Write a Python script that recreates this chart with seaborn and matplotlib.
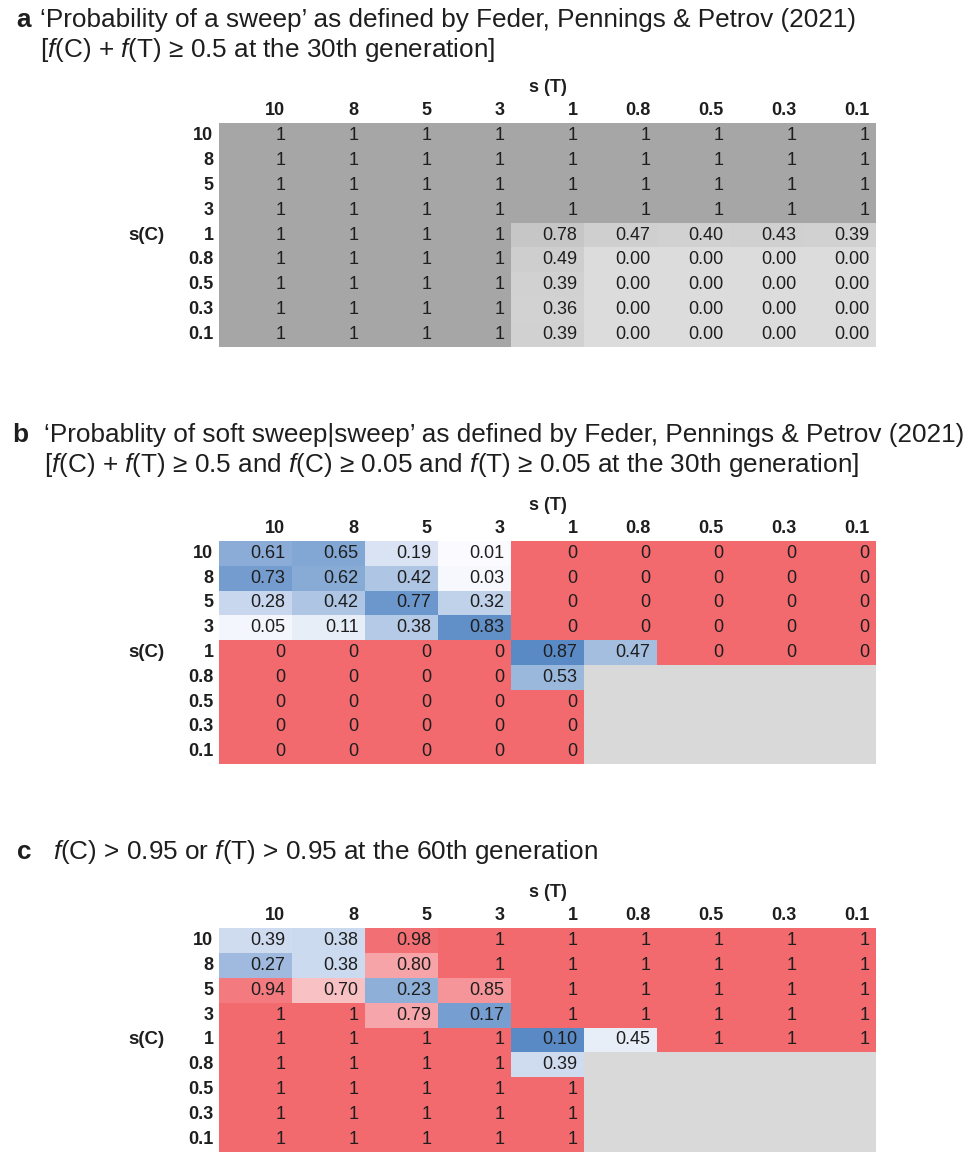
import numpy as np
import pandas as pd
import matplotlib
matplotlib.use("Agg")
import matplotlib.pyplot as plt
import seaborn as sns
from matplotlib.colors import ListedColormap, LinearSegmentedColormap, TwoSlopeNorm

sns.set_theme(style="white")
plt.rcParams['font.family'] = ['Liberation Sans', 'DejaVu Sans']
plt.rcParams['mathtext.fontset'] = 'custom'
plt.rcParams['mathtext.rm'] = 'Liberation Sans'
plt.rcParams['mathtext.it'] = 'Liberation Sans:italic'

# ---------------- data ----------------
s_C = ["10", "8", "5", "3", "1", "0.8", "0.5", "0.3", "0.1"]
s_T = ["10", "8", "5", "3", "1", "0.8", "0.5", "0.3", "0.1"]
nan = np.nan

sweep_prob = [
    [1, 1, 1, 1, 1, 1, 1, 1, 1],
    [1, 1, 1, 1, 1, 1, 1, 1, 1],
    [1, 1, 1, 1, 1, 1, 1, 1, 1],
    [1, 1, 1, 1, 1, 1, 1, 1, 1],
    [1, 1, 1, 1, 0.78, 0.47, 0.40, 0.43, 0.39],
    [1, 1, 1, 1, 0.49, 0.00, 0.00, 0.00, 0.00],
    [1, 1, 1, 1, 0.39, 0.00, 0.00, 0.00, 0.00],
    [1, 1, 1, 1, 0.36, 0.00, 0.00, 0.00, 0.00],
    [1, 1, 1, 1, 0.39, 0.00, 0.00, 0.00, 0.00],
]

soft_sweep_prob = [
    [0.61, 0.65, 0.19, 0.01, 0, 0, 0, 0, 0],
    [0.73, 0.62, 0.42, 0.03, 0, 0, 0, 0, 0],
    [0.28, 0.42, 0.77, 0.32, 0, 0, 0, 0, 0],
    [0.05, 0.11, 0.38, 0.83, 0, 0, 0, 0, 0],
    [0, 0, 0, 0, 0.87, 0.47, 0, 0, 0],
    [0, 0, 0, 0, 0.53, nan, nan, nan, nan],
    [0, 0, 0, 0, 0, nan, nan, nan, nan],
    [0, 0, 0, 0, 0, nan, nan, nan, nan],
    [0, 0, 0, 0, 0, nan, nan, nan, nan],
]

fixation_prob = [
    [0.39, 0.38, 0.98, 1, 1, 1, 1, 1, 1],
    [0.27, 0.38, 0.80, 1, 1, 1, 1, 1, 1],
    [0.94, 0.70, 0.23, 0.85, 1, 1, 1, 1, 1],
    [1, 1, 0.79, 0.17, 1, 1, 1, 1, 1],
    [1, 1, 1, 1, 0.10, 0.45, 1, 1, 1],
    [1, 1, 1, 1, 0.39, nan, nan, nan, nan],
    [1, 1, 1, 1, 1, nan, nan, nan, nan],
    [1, 1, 1, 1, 1, nan, nan, nan, nan],
    [1, 1, 1, 1, 1, nan, nan, nan, nan],
]

# ---------------- style ----------------
W, H = 968, 1153
DARK_GRAY = '#A6A6A6'
NAN_GRAY = '#D9D9D9'
RED = '#F2696E'
BLUE = '#5A8AC6'
WHITE = '#FCFCFF'
TEXT = '#1e1e1e'
CELL_FS = 13
TICK_FS = 13
TITLE_FS = 18.8

fig = plt.figure(figsize=(W / 100, H / 100), dpi=100)
fig.patch.set_facecolor('white')


def make_ax(top, bottom):
    return fig.add_axes([219 / W, 1 - bottom / H, 657 / W, (bottom - top) / H])


def labels_for(df, special):
    lab = df.copy().astype(object)
    for i in range(df.shape[0]):
        for j in range(df.shape[1]):
            v = df.iat[i, j]
            if np.isnan(v):
                lab.iat[i, j] = ''
            elif v == special:
                lab.iat[i, j] = f"{int(v)}"
            else:
                lab.iat[i, j] = f"{v:.2f}"
    return lab.values


def draw_panel(ax, values, special, special_color, cmap, **scale_kws):
    df = pd.DataFrame(values, index=s_C, columns=s_T, dtype=float)
    lab = labels_for(df, special)
    is_nan = df.isna()
    is_special = (df == special)
    ax.set_facecolor(NAN_GRAY)
    akw = dict(size=CELL_FS, color=TEXT)
    sns.heatmap(df, mask=~is_special, cmap=ListedColormap([special_color]),
                cbar=False, annot=lab, fmt='', annot_kws=akw, ax=ax,
                xticklabels=s_T, yticklabels=s_C)
    sns.heatmap(df, mask=is_special | is_nan, cmap=cmap, cbar=False,
                annot=lab, fmt='', annot_kws=akw, ax=ax,
                xticklabels=s_T, yticklabels=s_C, **scale_kws)
    # right-align numbers inside cells (Excel style)
    for t in ax.texts:
        x, y = t.get_position()
        t.set_position((x + 0.5 - 0.09, y))
        t.set_ha('right')
    n = len(s_T)
    ax.xaxis.tick_top()
    ax.set_xticks(np.arange(n) + 1 - 0.09)
    ax.set_xticklabels(s_T, fontweight='bold', fontsize=TICK_FS, ha='right',
                       color=TEXT, rotation=0)
    ax.set_yticks(np.arange(len(s_C)) + 0.5)
    ax.set_yticklabels(s_C, fontweight='bold', fontsize=TICK_FS, rotation=0,
                       color=TEXT, va='center')
    ax.tick_params(axis='x', length=0, pad=3)
    ax.tick_params(axis='y', length=0, pad=4)
    ax.xaxis.set_label_position('top')
    ax.set_xlabel('s (T)', fontweight='bold', fontsize=TICK_FS, color=TEXT, labelpad=7)
    ax.set_ylabel('s(C)', fontweight='bold', fontsize=TICK_FS + 0.5, color=TEXT,
                  rotation=0, ha='center', va='center')
    ax.yaxis.set_label_coords(-0.111, 0.5)
    for sp in ax.spines.values():
        sp.set_visible(False)


# panel a
ax_a = make_ax(123, 347)
gray_cmap = LinearSegmentedColormap.from_list('gray_scale', ['#DCDCDC', '#C0C0C0'])
draw_panel(ax_a, sweep_prob, 1, DARK_GRAY, gray_cmap, vmin=0, vmax=1)

# panel b
ax_b = make_ax(541, 764)
blue_cmap = LinearSegmentedColormap.from_list('blue_scale', [WHITE, BLUE])
b_vals = np.array(soft_sweep_prob, dtype=float)
draw_panel(ax_b, soft_sweep_prob, 0, RED, blue_cmap, vmin=0,
           vmax=np.nanmax(b_vals))

# panel c
ax_c = make_ax(928, 1152)
div_cmap = LinearSegmentedColormap.from_list('div_scale', [BLUE, WHITE, RED])
c_vals = np.array(fixation_prob, dtype=float)
draw_panel(ax_c, fixation_prob, 1, RED, div_cmap,
           norm=TwoSlopeNorm(vmin=np.nanmin(c_vals), vcenter=0.5, vmax=1.0))

# titles
def fy(px):
    return 1 - px / H

fig.text(16 / W, fy(27), 'a', fontsize=TITLE_FS, fontweight='bold', color=TEXT, va='baseline')
fig.text(40 / W, fy(27), '‘Probability of a sweep’ as defined by Feder, Pennings & Petrov (2021)',
         fontsize=TITLE_FS, color=TEXT, va='baseline')
fig.text(40 / W, fy(57), r'[$\mathit{f}$(C) + $\mathit{f}$(T) ≥ 0.5 at the 30th generation]',
         fontsize=TITLE_FS, color=TEXT, va='baseline')

fig.text(12 / W, fy(442), 'b', fontsize=TITLE_FS, fontweight='bold', color=TEXT, va='baseline')
fig.text(44 / W, fy(442), '‘Probablity of soft sweep|sweep’ as defined by Feder, Pennings & Petrov (2021)',
         fontsize=TITLE_FS, color=TEXT, va='baseline')
fig.text(44 / W, fy(472),
         r'[$\mathit{f}$(C) + $\mathit{f}$(T) ≥ 0.5 and $\mathit{f}$(C) ≥ 0.05 and $\mathit{f}$(T) ≥ 0.05 at the 30th generation]',
         fontsize=TITLE_FS, color=TEXT, va='baseline')

fig.text(17 / W, fy(859), 'c', fontsize=TITLE_FS, fontweight='bold', color=TEXT, va='baseline')
fig.text(53 / W, fy(859), r'$\mathit{f}$(C) > 0.95 or $\mathit{f}$(T) > 0.95 at the 60th generation',
         fontsize=TITLE_FS, color=TEXT, va='baseline')

fig.savefig('out.png', dpi=100)
